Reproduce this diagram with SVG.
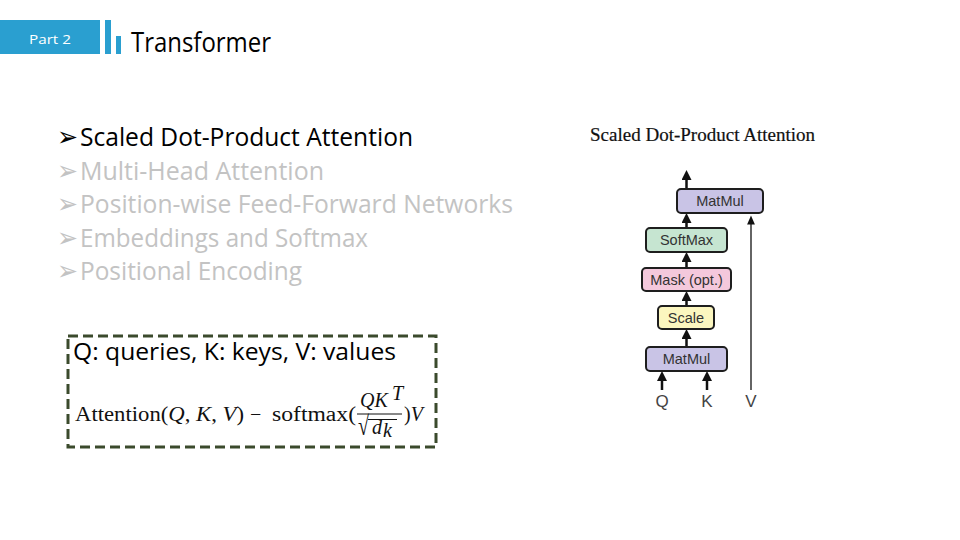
<svg xmlns="http://www.w3.org/2000/svg" width="960" height="540" viewBox="0 0 960 540">
<style>
.sans{font-family:"Open Sans","Liberation Sans",sans-serif;}
.bul{font-size:25px;fill:#c3c3c3;}
.arr{font-family:"DejaVu Sans",sans-serif;font-size:27px;}
.box{stroke:#1e1e1e;stroke-width:2;}
.bt{font-family:"Liberation Sans",Arial,sans-serif;font-size:14.5px;fill:#333;text-anchor:middle;}
.lab{font-family:"Liberation Sans",Arial,sans-serif;font-size:17px;fill:#444;text-anchor:middle;}
.ser{font-family:"Liberation Serif","DejaVu Serif",serif;font-size:20px;fill:#111;}
.it{font-style:italic;}
.thick{stroke:#111;stroke-width:2.5;fill:none;}
.thin{stroke:#111;stroke-width:1.3;fill:none;}
</style>
<defs>
<marker id="ah" markerWidth="4" markerHeight="4" refX="2" refY="2" orient="auto" markerUnits="strokeWidth">
<path d="M0,0 L4,2 L0,4 Z" fill="#111"/>
</marker>
<marker id="ahs" markerWidth="7" markerHeight="6" refX="3.5" refY="3" orient="auto" markerUnits="strokeWidth">
<path d="M0,0 L7,3 L0,6 Z" fill="#111"/>
</marker>
</defs>
<rect width="960" height="540" fill="#fff"/>
<g id="header">
<rect x="0" y="20" width="100" height="34" fill="#2a9fd0"/>
<text x="29" y="44" class="sans" font-size="13" fill="#fff" textLength="42" lengthAdjust="spacingAndGlyphs">Part 2</text>
<rect x="105" y="20" width="6" height="34" fill="#2a9fd0"/>
<rect x="116" y="36" width="5" height="18" fill="#2a9fd0"/>
<text x="131" y="52" class="sans" font-size="27" fill="#000" textLength="140" lengthAdjust="spacingAndGlyphs">Transformer</text>
</g>
<g id="bullets">
<text x="57" y="146" class="arr" fill="#000" textLength="21" lengthAdjust="spacingAndGlyphs">➢</text>
<text x="80" y="146" class="sans" font-size="25" fill="#000" textLength="333" lengthAdjust="spacingAndGlyphs">Scaled Dot-Product Attention</text>
<text x="57" y="180" class="arr" fill="#c3c3c3" textLength="21" lengthAdjust="spacingAndGlyphs">➢</text>
<text x="80" y="180" class="sans bul" textLength="244" lengthAdjust="spacingAndGlyphs">Multi-Head Attention</text>
<text x="57" y="213" class="arr" fill="#c3c3c3" textLength="21" lengthAdjust="spacingAndGlyphs">➢</text>
<text x="80" y="213" class="sans bul" textLength="433" lengthAdjust="spacingAndGlyphs">Position-wise Feed-Forward Networks</text>
<text x="57" y="247" class="arr" fill="#c3c3c3" textLength="21" lengthAdjust="spacingAndGlyphs">➢</text>
<text x="80" y="247" class="sans bul" textLength="288" lengthAdjust="spacingAndGlyphs">Embeddings and Softmax</text>
<text x="57" y="280" class="arr" fill="#c3c3c3" textLength="21" lengthAdjust="spacingAndGlyphs">➢</text>
<text x="80" y="280" class="sans bul" textLength="222" lengthAdjust="spacingAndGlyphs">Positional Encoding</text>
</g>
<g id="formula-box">
<rect x="68" y="336" width="368" height="111" fill="none" stroke="#3b4a2c" stroke-width="3" stroke-dasharray="10,5"/>
<text x="73" y="360" class="sans" font-size="23.5" fill="#000" textLength="323" lengthAdjust="spacingAndGlyphs">Q: queries, K: keys, V: values</text>
<text x="75" y="421" class="ser" textLength="169" lengthAdjust="spacingAndGlyphs">Attention(<tspan class="it">Q</tspan>, <tspan class="it">K</tspan>, <tspan class="it">V</tspan>)</text>
<text x="250" y="421" class="ser">−</text>
<text x="272" y="421" class="ser" textLength="84" lengthAdjust="spacingAndGlyphs">softmax(</text>
<text x="360" y="407" class="ser it">QK</text>
<text x="392" y="400" class="ser it" font-size="12">T</text>
<line x1="357" y1="414" x2="402" y2="414" stroke="#111" stroke-width="1"/>
<text transform="translate(358,435) scale(1,1.35)" class="ser" font-size="20">√</text>
<line x1="368" y1="419.5" x2="397" y2="419.5" stroke="#111" stroke-width="1"/>
<text x="372" y="434" class="ser it">d</text>
<text x="383" y="437" class="ser it" font-size="12">k</text>
<text x="404" y="421" class="ser">)<tspan class="it">V</tspan></text>
</g>
<g id="title-right">
<text x="590" y="141" font-family="Liberation Serif,serif" font-size="19" fill="#111" stroke="#111" stroke-width="0.2" textLength="225" lengthAdjust="spacingAndGlyphs">Scaled Dot-Product Attention</text>
</g>
<g id="connectors">
<line x1="686.5" y1="189" x2="686.5" y2="175" class="thick" marker-end="url(#ah)"/>
<line x1="686.5" y1="228" x2="686.5" y2="218" class="thick" marker-end="url(#ah)"/>
<line x1="686.5" y1="268" x2="686.5" y2="257" class="thick" marker-end="url(#ah)"/>
<line x1="686.5" y1="306" x2="686.5" y2="296" class="thick" marker-end="url(#ah)"/>
<line x1="686.5" y1="347" x2="686.5" y2="334" class="thick" marker-end="url(#ah)"/>
<line x1="662" y1="390" x2="662" y2="376" class="thick" marker-end="url(#ah)"/>
<line x1="707" y1="390" x2="707" y2="376" class="thick" marker-end="url(#ah)"/>
<line x1="751" y1="390" x2="751" y2="220" class="thin" marker-end="url(#ahs)"/>
</g>
<g id="matmul-top">
<rect x="677" y="189" width="86" height="24" rx="4" fill="#c9c4e6" class="box"/>
<text x="720" y="206" class="bt">MatMul</text>
</g>
<g id="softmax">
<rect x="646" y="228" width="81" height="24" rx="4" fill="#c6e5d1" class="box"/>
<text x="686.5" y="245" class="bt">SoftMax</text>
</g>
<g id="mask">
<rect x="642" y="268" width="89" height="23" rx="4" fill="#f4c8dc" class="box"/>
<text x="686.5" y="285" class="bt">Mask (opt.)</text>
</g>
<g id="scale">
<rect x="658" y="306" width="56" height="23" rx="4" fill="#fbf6bf" class="box"/>
<text x="686" y="323" class="bt">Scale</text>
</g>
<g id="matmul-bottom">
<rect x="646" y="347" width="81" height="24" rx="4" fill="#c9c4e6" class="box"/>
<text x="686.5" y="364" class="bt">MatMul</text>
</g>
<g id="inputs">
<text x="662" y="407" class="lab">Q</text>
<text x="707" y="407" class="lab">K</text>
<text x="751" y="407" class="lab">V</text>
</g>
</svg>
